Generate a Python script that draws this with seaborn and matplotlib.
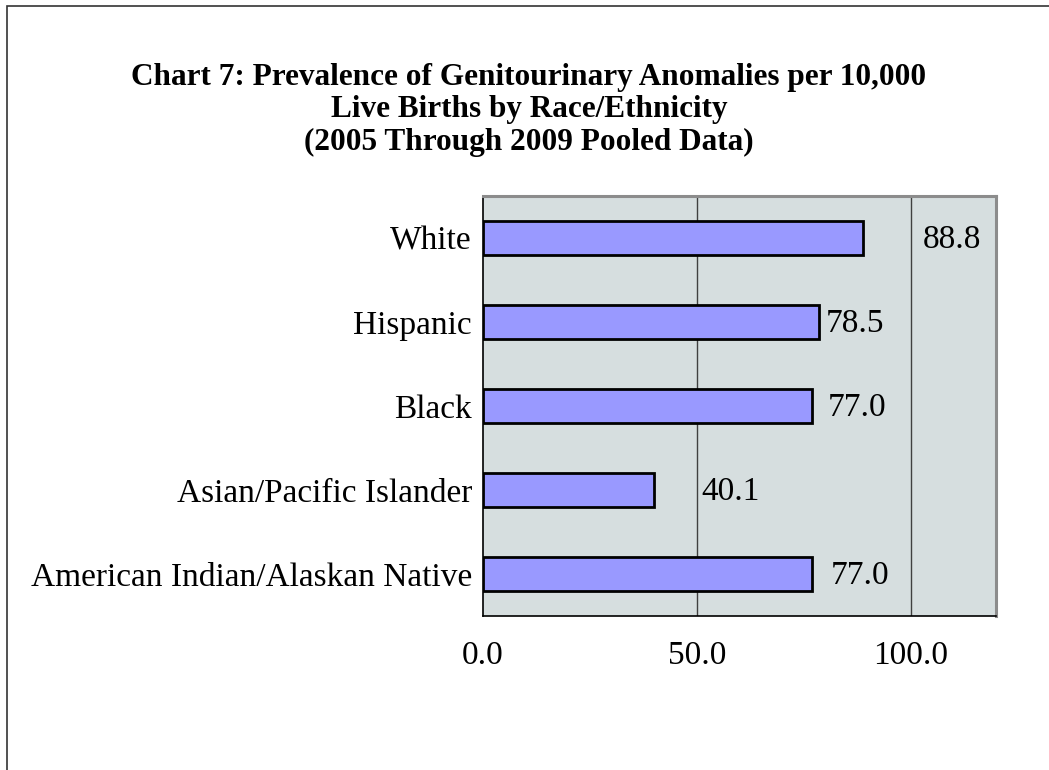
import matplotlib
matplotlib.use("Agg")
import matplotlib.pyplot as plt
import seaborn as sns
import pandas as pd
from matplotlib.patches import Rectangle
from matplotlib.ticker import FixedLocator

categories = ["White", "Hispanic", "Black", "Asian/Pacific Islander",
              "American Indian/Alaskan Native"]
values = [88.8, 78.5, 77.0, 40.1, 77.0]
value_labels = ["88.8", "78.5", "77.0", "40.1", "77.0"]
x_ticks = [0, 50, 100]
x_tick_labels = ["0.0", "50.0", "100.0"]
title = ("Chart 7: Prevalence of Genitourinary Anomalies per 10,000\n"
         "Live Births by Race/Ethnicity\n"
         "(2005 Through 2009 Pooled Data)")

# label offsets in pixels (Excel put them in odd places)
label_dx = [60, 7, 16, 47, 19]

df = pd.DataFrame({"group": categories, "rate": values})

sns.set_style("white", {"text.color": "black", "axes.labelcolor": "black",
                        "xtick.color": "black", "ytick.color": "black"})
plt.rcParams["font.family"] = ["Liberation Serif", "DejaVu Serif"]

fig = plt.figure(figsize=(10.49, 7.70), dpi=100)
ax = fig.add_axes([483 / 1049, 1 - 616 / 770, (996 - 483) / 1049, (616 - 196) / 770])
ax.set_facecolor("#D6DEDF")

sns.barplot(data=df, y="group", x="rate", orient="h", color="#9999FF",
            edgecolor="black", linewidth=2, width=0.4, saturation=1, ax=ax)

ax.set_xlim(0, 120)
ax.set_ylim(4.5, -0.5)
ax.set_xticks(x_ticks)
ax.set_xticklabels(x_tick_labels, fontsize=24)
ax.tick_params(axis="x", length=8, width=1, color="#404040", labelcolor="black", pad=10)
ax.tick_params(axis="y", which="major", length=0, pad=8, labelsize=24, labelcolor="black")
ax.yaxis.set_minor_locator(FixedLocator([i - 0.5 for i in range(len(categories) + 1)]))
ax.tick_params(axis="y", which="minor", length=9, width=1, color="#404040")
ax.set_xlabel("")
ax.set_ylabel("")

for x in x_ticks[1:]:
    ax.axvline(x, color="#404040", lw=1, zorder=0.5)

for i, (v, lab) in enumerate(zip(values, value_labels)):
    ax.annotate(lab, xy=(v, i), xytext=(label_dx[i], -2), textcoords="offset pixels",
                ha="left", va="center", fontsize=24, color="black")

for side in ["left", "bottom"]:
    ax.spines[side].set_color("black")
    ax.spines[side].set_linewidth(1.2)
for side in ["top", "right"]:
    ax.spines[side].set_color("#8C8C8C")
    ax.spines[side].set_linewidth(2.2)

fig.text(529 / 1049, 1 - 110 / 770, title, ha="center", va="center",
         fontsize=22.5, fontweight="bold", linespacing=1.17, color="black")

fig.patches.append(Rectangle((7 / 1049, -0.05), 1.1, 1 - 6 / 770 + 0.05,
                             transform=fig.transFigure, fill=False,
                             edgecolor="#333333", lw=1.2))

fig.savefig("out.png", dpi=100)
